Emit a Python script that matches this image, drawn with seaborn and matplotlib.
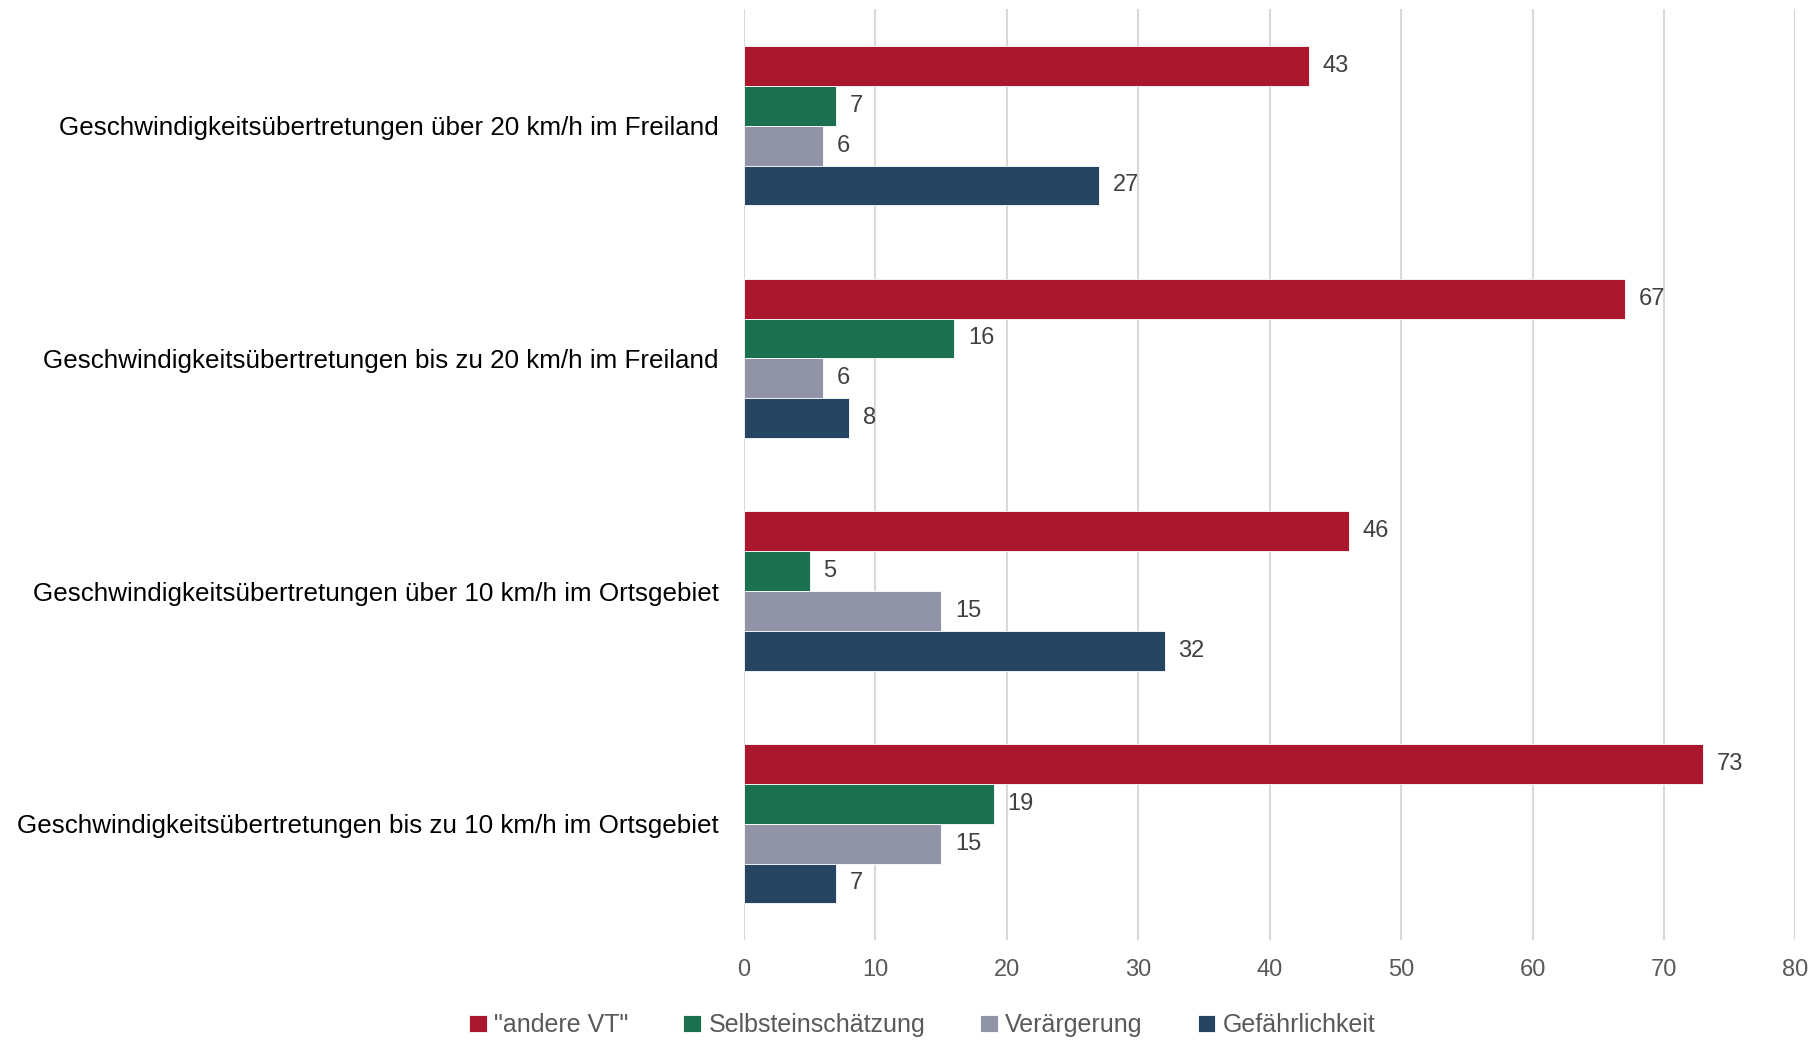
import numpy as np
import pandas as pd
import matplotlib
matplotlib.use("Agg")
import matplotlib.pyplot as plt
import seaborn as sns

# Daten
kategorien = [
    "Geschwindigkeitsübertretungen über 20 km/h im Freiland",
    "Geschwindigkeitsübertretungen bis zu 20 km/h im Freiland",
    "Geschwindigkeitsübertretungen über 10 km/h im Ortsgebiet",
    "Geschwindigkeitsübertretungen bis zu 10 km/h im Ortsgebiet",
]
serien = ['"andere VT"', "Selbsteinschätzung", "Verärgerung", "Gefährlichkeit"]
andere_vt = [43, 67, 46, 73]
selbst = [7, 16, 5, 19]
aerger = [6, 6, 15, 15]
gefahr = [27, 8, 32, 7]
farben = ["#AA162B", "#1B7050", "#9194A6", "#254563"]
x_ticks = [0, 10, 20, 30, 40, 50, 60, 70, 80]

df = pd.DataFrame({
    "kategorie": kategorien * 4,
    "serie": np.repeat(serien, 4),
    "wert": andere_vt + selbst + aerger + gefahr,
})

sns.set_theme(style="white")
plt.rcParams["font.family"] = ["Liberation Sans Narrow", "Liberation Sans", "DejaVu Sans"]

fig = plt.figure(figsize=(18.19, 10.44), dpi=100)
ax = fig.add_axes([0.409, 0.0996, 0.578, 0.8914])

sns.barplot(data=df, y="kategorie", x="wert", hue="serie", order=kategorien,
            hue_order=serien, palette=farben, saturation=1, orient="h", width=0.685,
            edgecolor="white", linewidth=0.6, ax=ax)

for c in ax.containers:
    ax.bar_label(c, padding=10, fontsize=17, color="#404040")

ax.set_xlim(0, 80)
ax.set_xticks(x_ticks)
ax.set_ylim(3.5, -0.5)
ax.grid(axis="x", color="#d9d9d9", linewidth=1.5)
ax.set_axisbelow(True)
for s in ax.spines.values():
    s.set_visible(False)
ax.tick_params(axis="x", length=0, pad=14, labelsize=17, labelcolor="#595959")
ax.tick_params(axis="y", length=0, pad=18, labelsize=18.7, labelcolor="black")
ax.set_xlabel("")
ax.set_ylabel("")

handles, labels = ax.get_legend_handles_labels()
ax.legend_.remove()
fig.legend(handles, labels, loc="center", bbox_to_anchor=(0.507, 0.018), ncol=4,
           frameon=False, fontsize=18, labelcolor="#595959", handlelength=0.7,
           handleheight=0.7, handletextpad=0.3, columnspacing=2.2)

fig.savefig("out.png", dpi=100)
